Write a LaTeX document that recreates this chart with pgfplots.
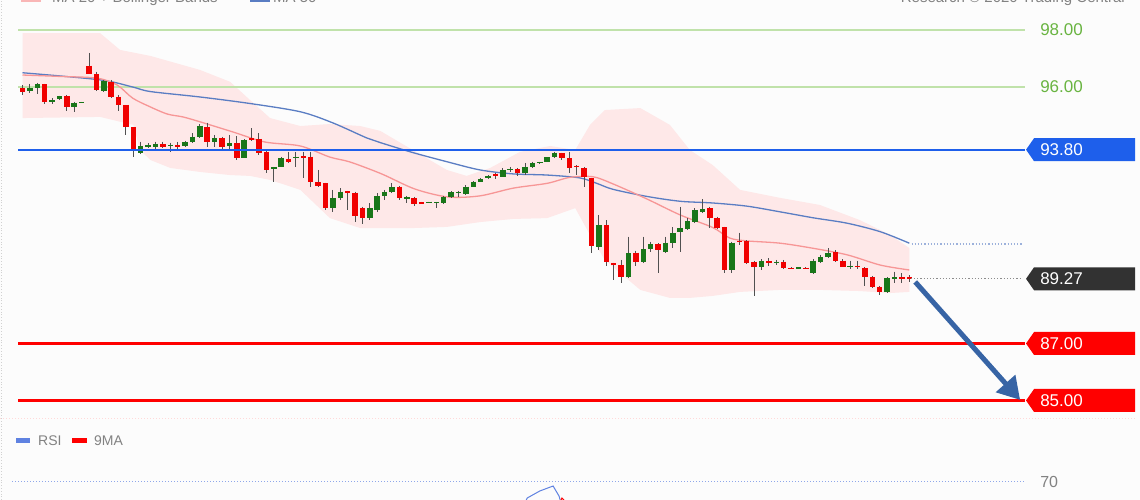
\documentclass[border=0pt]{standalone}
\usepackage{pgfplots}
\pgfplotsset{compat=1.18}
\usepackage{pgfplotstable}
\usepackage{fontspec}
\setmainfont{Liberation Sans}
\usetikzlibrary{arrows.meta}

\definecolor{bg}{RGB}{252,252,252}
\definecolor{bandpink}{RGB}{254,232,232}
\definecolor{ma20}{RGB}{247,150,150}
\definecolor{ma50}{RGB}{90,125,195}
\definecolor{lgreen}{RGB}{192,226,170}
\definecolor{tgreen}{RGB}{105,180,65}
\definecolor{levelblue}{RGB}{30,95,235}
\definecolor{candred}{RGB}{240,0,0}
\definecolor{candgreen}{RGB}{25,118,25}
\definecolor{wickgray}{RGB}{80,80,80}
\definecolor{arrowblue}{RGB}{55,100,165}
\definecolor{tagdark}{RGB}{50,50,50}
\definecolor{txtgray}{RGB}{130,130,130}
\definecolor{rsiblue}{RGB}{95,130,225}

\pgfplotstableread{
i o h l c
0 95.95 96.07 95.72 95.84
1 95.86 96.11 95.79 95.97
2 95.98 96.15 95.75 96.09
3 96.09 96.12 95.42 95.46
4 95.46 95.60 95.40 95.54
5 95.58 95.70 95.56 95.68
6 95.69 95.72 95.17 95.31
7 95.31 95.48 95.13 95.45
8 95.44 95.48 95.44 95.48
9 96.75 97.20 96.45 96.45
10 96.45 96.54 95.87 95.89
11 95.87 96.26 95.84 96.22
12 96.19 96.25 95.60 95.66
13 95.66 95.72 95.17 95.37
14 95.37 95.37 94.32 94.61
15 94.59 94.59 93.53 93.77
16 93.70 94.08 93.65 93.93
17 93.90 94.03 93.85 93.95
18 93.91 94.08 93.79 94.00
19 94.00 94.08 93.86 93.91
20 93.93 94.05 93.73 93.98
21 93.96 94.07 93.79 93.91
22 93.93 94.12 93.90 94.06
23 94.06 94.38 94.03 94.26
24 94.26 94.70 94.20 94.64
25 94.61 94.75 93.89 94.08
26 94.08 94.32 93.91 94.20
27 94.20 94.26 93.79 93.91
28 93.93 94.32 93.79 94.03
29 94.05 94.28 93.44 93.50
30 93.50 94.17 93.50 94.14
31 94.20 94.55 94.12 94.14
32 94.18 94.38 93.61 93.67
33 93.73 93.81 92.99 93.09
34 93.11 93.20 92.68 93.20
35 93.20 93.56 93.18 93.50
36 93.47 93.73 93.32 93.38
37 93.50 93.73 93.20 93.56
38 93.57 93.73 92.80 93.52
39 93.56 93.73 92.50 92.68
40 92.65 93.09 92.49 92.54
41 92.62 92.64 91.68 91.74
42 91.74 92.39 91.62 92.10
43 92.10 92.45 92.04 92.33
44 92.35 92.36 91.68 92.29
45 92.29 92.33 91.27 91.47
46 91.74 91.80 91.19 91.39
47 91.39 91.92 91.33 91.74
48 91.68 92.27 91.62 92.18
49 92.18 92.39 92.04 92.33
50 92.33 92.62 92.27 92.48
51 92.50 92.53 92.04 92.10
52 92.08 92.18 91.94 92.13
53 92.10 92.15 91.82 91.88
54 91.96 91.97 91.90 91.91
55 91.93 91.98 91.92 91.98
56 91.92 91.97 91.74 91.97
57 91.94 92.18 91.89 92.13
58 92.15 92.35 92.10 92.31
59 92.27 92.36 92.15 92.32
60 92.25 92.56 92.21 92.50
61 92.50 92.70 92.48 92.68
62 92.68 92.80 92.65 92.76
63 92.80 92.90 92.77 92.88
64 92.93 92.99 92.76 92.88
65 92.85 93.15 92.83 93.09
66 93.07 93.20 93.03 93.12
67 93.11 93.15 92.88 92.97
68 92.97 93.34 92.91 93.20
69 93.20 93.38 93.15 93.34
70 93.32 93.38 93.31 93.37
71 93.38 93.54 93.37 93.53
72 93.56 93.73 93.50 93.70
73 93.67 93.70 93.44 93.50
74 93.50 93.73 92.99 93.15
75 93.24 93.26 92.91 93.19
76 93.15 93.20 92.50 92.83
77 92.80 92.82 90.19 90.42
78 90.40 91.51 90.28 91.16
79 91.16 91.33 89.72 89.87
80 89.81 89.84 89.23 89.76
81 89.76 89.93 89.13 89.32
82 89.32 90.75 89.30 90.17
83 90.19 90.26 89.72 89.87
84 89.87 90.75 89.84 90.31
85 90.31 90.57 90.22 90.49
86 90.49 90.52 89.46 90.28
87 90.22 90.75 90.19 90.54
88 90.54 91.08 90.34 90.87
89 90.92 91.80 90.22 91.04
90 91.01 91.39 90.98 91.30
91 91.27 91.74 91.22 91.68
92 91.62 92.06 91.57 91.71
93 91.74 91.80 91.04 91.39
94 91.39 91.45 91.01 91.04
95 91.08 91.10 89.48 89.58
96 89.58 90.57 89.48 90.54
97 90.59 90.89 90.46 90.55
98 90.61 90.63 89.79 89.84
99 89.87 89.91 88.67 89.67
100 89.67 89.96 89.58 89.91
101 89.90 89.99 89.72 89.81
102 89.82 89.93 89.76 89.87
103 89.87 89.93 89.60 89.64
104 89.66 89.67 89.60 89.61
105 89.62 89.68 89.61 89.67
106 89.66 89.67 89.60 89.60
107 89.48 89.96 89.44 89.91
108 89.87 90.11 89.81 90.03
109 90.03 90.34 89.99 90.19
110 90.22 90.28 89.87 89.91
111 89.91 89.96 89.67 89.70
112 89.68 89.91 89.60 89.73
113 89.72 89.91 89.60 89.67
114 89.64 89.67 89.02 89.34
115 89.34 89.37 88.94 88.99
116 88.99 89.02 88.70 88.82
117 88.82 89.32 88.78 89.29
118 89.27 89.52 89.11 89.32
119 89.32 89.46 89.13 89.27
120 89.34 89.40 89.17 89.27
}\candles

\begin{document}
\begin{tikzpicture}[x=1pt,y=1pt]
\fill[bg] (0,0) rectangle (1140,500);
\useasboundingbox (0,0) rectangle (1140,500);
% frame details
\draw[black!18, dotted, line width=0.8pt] (1.5,0) -- (1.5,500);
\draw[red!15, dotted, line width=1pt] (0,81.5) -- (1136,81.5);
% top legend (cut by the page edge, as in the reference)
\fill[ma20!70] (21,497.5) rectangle (41,503);
\node[anchor=base west, inner sep=0, text=txtgray, font=\fontsize{15}{15}\selectfont] at (52,497) {MA 20 + Bollinger Bands};
\fill[ma50] (250,497.5) rectangle (270,503);
\node[anchor=base west, inner sep=0, text=txtgray, font=\fontsize{15}{15}\selectfont] at (273,497) {MA 50};
\node[anchor=base east, inner sep=0, text=txtgray, font=\fontsize{15}{15}\selectfont] at (1125,497.5) {Research © 2020 Trading Central};

\begin{axis}[at={(18pt,85pt)}, anchor=south west, scale only axis,
  width=1007pt, height=410pt, xmin=-0.609, xmax=135.66, ymin=84.491, ymax=98.877,
  hide axis, clip=false]
% Bollinger band
\addplot[fill=bandpink, draw=none, forget plot] coordinates {
(0,97.89) (10.5,97.89) (13.2,97.30) (17.3,97.09) (24,96.60) (28.1,96.18) (30.8,95.54) (33.5,94.91) (37.6,94.63) (41.6,94.70) (45.7,94.63) (48.4,94.46) (52.8,93.79) (57.4,93.09) (60.1,92.88) (63.3,93.16) (67.3,93.72) (71.4,93.93) (74.8,93.79) (76.8,94.67) (78.8,95.19) (83.6,95.26) (87.6,94.67) (90.3,93.79) (93.4,93.26) (97.1,92.39) (102.5,92.11) (107.9,91.86) (113.3,91.33) (117.4,90.81) (120,90.35)
(120,88.81) (117.4,88.77) (113.3,88.84) (107.9,88.88) (102.5,88.88) (97.1,88.81) (93.4,88.67) (90.3,88.60) (87.6,88.60) (83.6,88.88) (78.8,89.93) (76.8,90.81) (74.8,91.75) (71,91.40) (66.4,91.37) (61.9,91.26) (57.4,91.09) (52.8,91.05) (48.4,91.05) (45.7,91.05) (41.6,91.40) (37.6,92.39) (33.5,92.74) (30.8,92.88) (28.1,92.91) (24,93.02) (20,93.16) (17.3,93.44) (15.9,93.79) (15,94.67) (10.5,94.95) (0,94.91)};
% level lines
\addplot[draw=lgreen, line width=1.5pt] coordinates {(-0.609,98) (135.66,98)};
\addplot[draw=lgreen, line width=1.5pt] coordinates {(-0.609,96) (135.66,96)};
% MA 50
\addplot[draw=ma50, line width=1.3pt, smooth] coordinates {
(0,96.50) (10.5,96.25) (14.9,96.00) (17.3,95.84) (24,95.65) (30.8,95.42) (37.6,95.13) (42,94.74) (46.6,94.21) (48.4,94.05) (52.8,93.70) (57.4,93.38) (61.9,93.09) (66.4,92.95) (71,92.91) (75.4,92.81) (77.7,92.62) (79.9,92.41) (84.5,92.16) (89,91.99) (93.4,91.93) (98,91.82) (102.5,91.62) (107,91.41) (111.6,91.22) (116.1,90.92) (120,90.52)};
\addplot[draw=ma50!60, dotted, line width=1.2pt] coordinates {(120.3,90.49) (135.3,90.49)};
% MA 20
\addplot[draw=ma20, line width=1.3pt, smooth] coordinates {
(0,96.42) (5.1,96.37) (10.1,96.31) (12.8,96.07) (14.9,95.61) (17.3,95.30) (19.6,95.05) (21.7,94.95) (24,94.78) (28.5,94.42) (32.8,94.07) (37.6,93.93) (41.6,93.54) (44.3,93.37) (48.6,92.95) (53.1,92.42) (57.6,92.14) (61.9,92.18) (66.4,92.45) (71,92.62) (74.1,92.83) (77.2,92.85) (79.9,92.60) (84.5,92.07) (89,91.51) (93.4,91.07) (95.7,90.70) (98,90.60) (102.5,90.52) (107,90.34) (111.6,90.11) (116.1,89.75) (120,89.58)};
% candles: wicks
\addplot[draw=none, forget plot, error bars/.cd, y dir=minus, y explicit, error mark=none,
  error bar style={draw=wickgray, line width=1pt}]
  table[x=i, y=h, y error minus expr=\thisrow{h}-\thisrow{l}] {\candles};
% red bodies
\addplot[draw=none, forget plot, restrict expr to domain={\thisrow{o}-\thisrow{c}}{0.00001:100},
  error bars/.cd, y dir=minus, y explicit, error mark=none,
  error bar style={draw=candred, line width=5.5pt}]
  table[x=i, y=o, y error minus expr=\thisrow{o}-\thisrow{c}] {\candles};
% green bodies
\addplot[draw=none, forget plot, restrict expr to domain={\thisrow{c}-\thisrow{o}}{0:100},
  error bars/.cd, y dir=minus, y explicit, error mark=none,
  error bar style={draw=candgreen, line width=5.5pt}]
  table[x=i, y=c, y error minus expr=\thisrow{c}-\thisrow{o}] {\candles};
% blue level 93.80
\addplot[levelblue, solid, line width=2pt, mark=none] table[x=x, y=y] {
x y
-0.609 93.8
135.66 93.8
};
% last price dotted
\addplot[draw=black!45, dotted, line width=1.2pt] coordinates {(120.2,89.27) (135.3,89.27)};
% support lines
\addplot[draw=red, line width=3pt] coordinates {(-0.609,87) (135.66,87)};
\addplot[draw=red, line width=3pt] coordinates {(-0.609,85) (135.66,85)};
% arrow
\draw[arrowblue, line width=5pt, -{Triangle[length=22pt,width=25pt]}] (axis cs:120.8,89.16) -- (axis cs:135.0,85.02);
% right labels
\node[anchor=west, inner sep=0, text=tgreen, font=\fontsize{17}{17}\selectfont] at (axis cs:135.8,98) [xshift=14pt] {98.00};
\node[anchor=west, inner sep=0, text=tgreen, font=\fontsize{17}{17}\selectfont] at (axis cs:135.8,96) [xshift=14pt] {96.00};
\fill[levelblue] (axis cs:135.8,93.8) -- ++(8pt,11.5pt) -- ++(101pt,0pt) -- ++(0pt,-23pt) -- ++(-101pt,0pt) -- cycle;
\node[anchor=west, inner sep=0, text=white, font=\fontsize{17}{17}\selectfont] at (axis cs:135.8,93.8) [xshift=14pt] {93.80};
\fill[tagdark] (axis cs:135.8,89.27) -- ++(8pt,11.5pt) -- ++(101pt,0pt) -- ++(0pt,-23pt) -- ++(-101pt,0pt) -- cycle;
\node[anchor=west, inner sep=0, text=white, font=\fontsize{17}{17}\selectfont] at (axis cs:135.8,89.27) [xshift=14pt] {89.27};
\fill[red] (axis cs:135.8,87) -- ++(8pt,11.5pt) -- ++(101pt,0pt) -- ++(0pt,-23pt) -- ++(-101pt,0pt) -- cycle;
\node[anchor=west, inner sep=0, text=white, font=\fontsize{17}{17}\selectfont] at (axis cs:135.8,87) [xshift=14pt] {87.00};
\fill[red] (axis cs:135.8,85) -- ++(8pt,11.5pt) -- ++(101pt,0pt) -- ++(0pt,-23pt) -- ++(-101pt,0pt) -- cycle;
\node[anchor=west, inner sep=0, text=white, font=\fontsize{17}{17}\selectfont] at (axis cs:135.8,85) [xshift=14pt] {85.00};
\end{axis}

% RSI panel
\begin{axis}[at={(18pt,0pt)}, anchor=south west, scale only axis,
  width=1007pt, height=80pt, xmin=-0.609, xmax=135.66, ymin=61, ymax=101,
  hide axis, clip=false]
\addplot[draw=rsiblue!70, dotted, line width=1pt] coordinates {(-1.42,70) (135.4,70)};
\addplot[draw=rsiblue, line width=1pt] coordinates {(67.8,58) (68.3,62) (70.0,65.5) (71.8,68) (72.6,63) (73.0,58)};
\addplot[draw=red, line width=1pt] coordinates {(72.5,58) (73.0,62) (73.5,60)};
\node[anchor=west, inner sep=0, text=txtgray, font=\fontsize{16}{16}\selectfont] at (axis cs:135.8,70) [xshift=14pt] {70};
\end{axis}
% RSI legend
\fill[rsiblue] (16,56.5) rectangle (30,61.5);
\node[anchor=west, inner sep=0, text=txtgray, font=\fontsize{14}{14}\selectfont] at (38,59) {RSI};
\fill[red] (72,56.5) rectangle (87,61.5);
\node[anchor=west, inner sep=0, text=txtgray, font=\fontsize{14}{14}\selectfont] at (94,59) {9MA};
\end{tikzpicture}
\end{document}
